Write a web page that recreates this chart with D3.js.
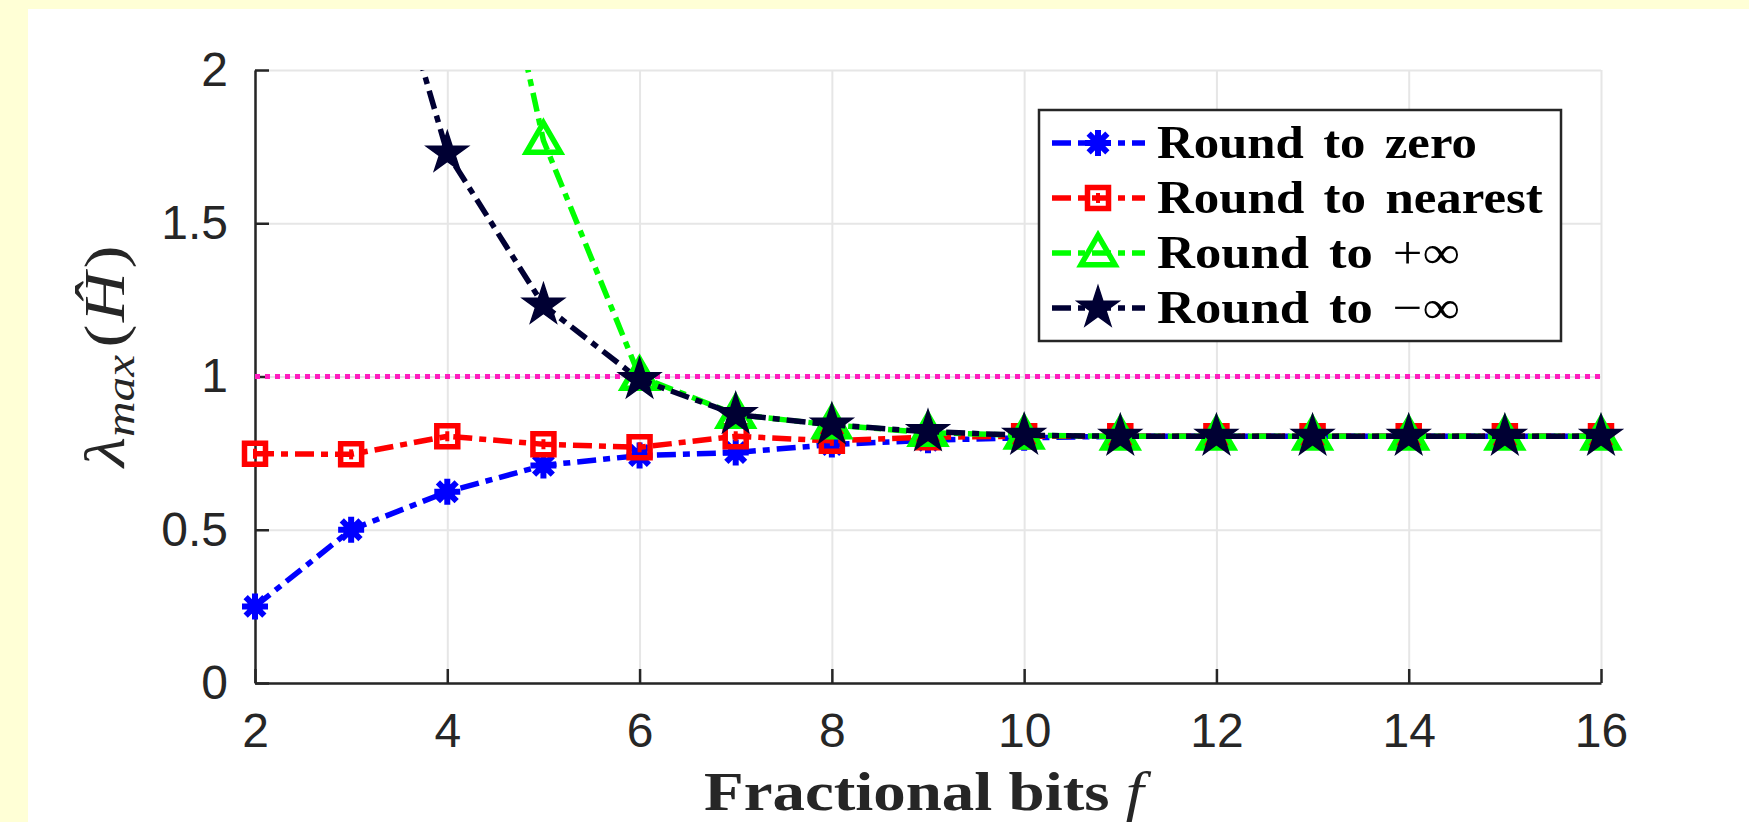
<!DOCTYPE html>
<html><head><meta charset="utf-8">
<script src="https://cdn.jsdelivr.net/npm/d3@7"></script>
<style>html,body{margin:0;padding:0;background:#ffffd6;} svg{display:block}</style>
</head><body>
<svg id="chart" width="1749" height="822"></svg>
<script>
// ---------- data ----------
const fracBits = [2,3,4,5,6,7,8,9,10,11,12,13,14,15,16];
const xTicks = [2,4,6,8,10,12,14,16];
const yTicks = [0,0.5,1,1.5,2];
const yTickLabels = ["0","0.5","1","1.5","2"];

const roundZeroX = [2,3,4,5,6,7,8,9,10,11,12,13,14,15,16];
const roundZero  = [0.25,0.50,0.624,0.71,0.742,0.752,0.778,0.792,0.80,0.805,0.805,0.805,0.805,0.805,0.805];

const roundNearestX = [2,3,4,5,6,7,8,9,10,11,12,13,14,15,16];
const roundNearest  = [0.748,0.746,0.805,0.779,0.769,0.805,0.79,0.802,0.805,0.805,0.805,0.805,0.805,0.805,0.805];

const roundPlusInfX = [4,5,6,7,8,9,10,11,12,13,14,15,16];
const roundPlusInf  = [3.2,1.77,1.0,0.876,0.842,0.817,0.808,0.805,0.805,0.805,0.805,0.805,0.805];

const roundMinusInfX = [3,4,5,6,7,8,9,10,11,12,13,14,15,16];
const roundMinusInf  = [2.81,1.729,1.233,0.99,0.876,0.842,0.82,0.808,0.805,0.805,0.805,0.805,0.805,0.805];

const thresholdValue = 1;
const seriesNames = ["Round to zero","Round to nearest","Round to +\u221E","Round to \u2212\u221E"];

// ---------- layout ----------
const W = 1749, H = 822;
const plot = {left:255, right:1601, top:70, bottom:683};
const axisColor = "#262626";

const svg = d3.select("#chart");
svg.append("rect").attr("x",0).attr("y",0).attr("width",W).attr("height",H).attr("fill","#ffffd6");
svg.append("rect").attr("x",28).attr("y",9).attr("width",W-28).attr("height",H-9).attr("fill","#ffffff");

const x = d3.scaleLinear().domain([2,16]).range([plot.left, plot.right]);
const y = d3.scaleLinear().domain([0,2]).range([plot.bottom, plot.top]);

// grid
const gGrid = svg.append("g");
gGrid.append("g").attr("transform",`translate(0,${plot.bottom})`)
  .call(d3.axisBottom(x).tickValues(xTicks).tickSize(-(plot.bottom-plot.top)).tickFormat(""))
  .call(g=>g.select(".domain").remove())
  .call(g=>g.selectAll("line").attr("stroke","#e6e6e6").attr("stroke-width",2));
gGrid.append("g").attr("transform",`translate(${plot.left},0)`)
  .call(d3.axisLeft(y).tickValues(yTicks).tickSize(-(plot.right-plot.left)).tickFormat(""))
  .call(g=>g.select(".domain").remove())
  .call(g=>g.selectAll("line").attr("stroke","#e6e6e6").attr("stroke-width",2));

// axes
const tickFont = "'Liberation Sans', Arial, sans-serif";
const xAxis = svg.append("g").attr("transform",`translate(0,${plot.bottom})`)
  .call(d3.axisBottom(x).tickValues(xTicks).tickSizeInner(-14).tickSizeOuter(0).tickPadding(30).tickFormat(d3.format("d")));
const yAxis = svg.append("g").attr("transform",`translate(${plot.left},0)`)
  .call(d3.axisLeft(y).tickValues(yTicks).tickSizeInner(-14).tickSizeOuter(0).tickPadding(27).tickFormat((d,i)=>yTickLabels[i]));
[xAxis,yAxis].forEach(a=>{
  a.select(".domain").attr("stroke",axisColor).attr("stroke-width",2.5);
  a.selectAll(".tick line").attr("stroke",axisColor).attr("stroke-width",2.5);
  a.selectAll(".tick text").attr("fill",axisColor).attr("font-family",tickFont).attr("font-size",48);
});

// clip
svg.append("clipPath").attr("id","plotClip").append("rect")
  .attr("x",plot.left).attr("y",plot.top).attr("width",plot.right-plot.left).attr("height",plot.bottom-plot.top);

// threshold line
svg.append("line").attr("x1",x(2)).attr("x2",x(16)).attr("y1",y(thresholdValue)).attr("y2",y(thresholdValue))
  .attr("stroke","#ff1dbf").attr("stroke-width",5).attr("stroke-dasharray","5,5");

// markers
function asteriskPath(s){const a=s*0.72;return `M${-s},0L${s},0M0,${-s}L0,${s}M${-a},${-a}L${a},${a}M${-a},${a}L${a},${-a}`;}
const series = [
  {name:seriesNames[0], xs:roundZeroX, ys:roundZero, color:"#0000ff", marker:"asterisk"},
  {name:seriesNames[1], xs:roundNearestX, ys:roundNearest, color:"#ff0000", marker:"square"},
  {name:seriesNames[2], xs:roundPlusInfX, ys:roundPlusInf, color:"#00ff00", marker:"triangle"},
  {name:seriesNames[3], xs:roundMinusInfX, ys:roundMinusInf, color:"#000033", marker:"star"}
];
function drawMarker(g, type, color){
  if(type==="asterisk"){
    g.append("path").attr("d",asteriskPath(13)).attr("stroke",color).attr("stroke-width",6).attr("fill","none");
    g.append("circle").attr("r",8).attr("fill",color);
  } else if(type==="square"){
    g.append("path").attr("d",d3.symbol(d3.symbolSquare,21*21)()).attr("stroke",color).attr("stroke-width",5.5).attr("fill","none");
    g.append("rect").attr("x",-2).attr("y",-5).attr("width",4).attr("height",10).attr("fill",color);
  } else if(type==="triangle"){
    const s=34, h=s*Math.sqrt(3)/2;
    g.append("path").attr("d",`M0,${-h/2-3}L${s/2},${h/2-3}L${-s/2},${h/2-3}Z`).attr("stroke",color).attr("stroke-width",5.5).attr("fill","none");
  } else if(type==="star"){
    g.append("path").attr("d",d3.symbol(d3.symbolStar, 22*22/0.8908130915292852)()).attr("fill",color).attr("stroke",color).attr("stroke-width",1.5);
  }
}
const dash = "19,7,7,7";
const line = d3.line().x(d=>x(d[0])).y(d=>y(d[1]));
series.forEach(s=>{
  const pts = s.xs.map((v,i)=>[v,s.ys[i]]);
  svg.append("path").attr("clip-path","url(#plotClip)").attr("d",line(pts))
    .attr("fill","none").attr("stroke",s.color).attr("stroke-width",5.5).attr("stroke-dasharray",dash);
  pts.filter(p=>p[1]>=0 && p[1]<=2).forEach(p=>{
    const g = svg.append("g").attr("transform",`translate(${x(p[0])},${y(p[1])})`);
    drawMarker(g,s.marker,s.color);
  });
});

// helper: stretch text horizontally to a target width
function stretch(t, x0, y0, target, rot){
  const w = t.node().getComputedTextLength();
  t.attr("x",0).attr("y",0).attr("transform",`translate(${x0},${y0})${rot?" rotate(-90)":""} scale(${target/w},1)`);
}

// legend
const lg = svg.append("g");
lg.append("rect").attr("x",1039).attr("y",110).attr("width",522).attr("height",231)
  .attr("fill","#ffffff").attr("stroke",axisColor).attr("stroke-width",2.5);
const serif = "'Liberation Serif', 'Times New Roman', serif";
const rowY = [143,198,253,308];
const targetW = [320,386,303,303];
series.forEach((s,i)=>{
  const yy = rowY[i];
  lg.append("line").attr("x1",1052).attr("x2",1145).attr("y1",yy).attr("y2",yy)
    .attr("stroke",s.color).attr("stroke-width",5.5).attr("stroke-dasharray",dash);
  const g = lg.append("g").attr("transform",`translate(1098,${yy})`);
  drawMarker(g,s.marker,s.color);
  const t = lg.append("text").attr("font-family",serif).attr("word-spacing",6)
    .attr("font-size",46).attr("fill","#000").attr("xml:space","preserve");
  if(i<2){
    t.append("tspan").attr("font-weight","bold").text(s.name);
  } else {
    const base = s.name.slice(0, s.name.length-2);
    t.append("tspan").attr("font-weight","bold").text(base);
    t.append("tspan").attr("font-weight","normal").text(s.name.slice(-2));
  }
  stretch(t, 1157, yy+15, targetW[i]);
});

// x label
const xl = svg.append("text").attr("font-family",serif).attr("font-size",54).attr("fill",axisColor);
xl.append("tspan").attr("font-weight","bold").text("Fractional bits ");
xl.append("tspan").attr("font-style","italic").text("f");
stretch(xl, 704, 810, 440);

// y label
const yl = svg.append("text").attr("font-family",serif).attr("font-size",56).attr("fill",axisColor);
yl.append("tspan").attr("font-style","italic").text("\u03BB");
yl.append("tspan").attr("font-style","italic").attr("font-size",40).attr("dy",10).text("max");
yl.append("tspan").attr("dy",-10).attr("dx",6).text("(");
yl.append("tspan").attr("font-style","italic").attr("dx",2).text("\u0124");
yl.append("tspan").attr("dx",3).text(")");
stretch(yl, 124, 467, 208, true);
</script>
</body></html>
